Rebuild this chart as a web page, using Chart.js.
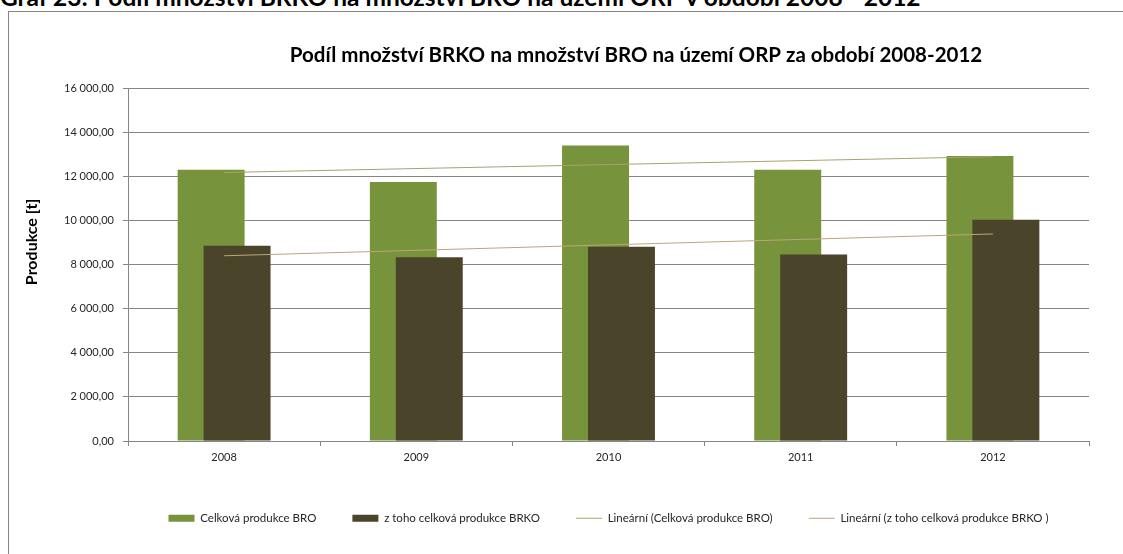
<!DOCTYPE html>
<html lang="cs">
<head>
<meta charset="utf-8">
<title>Podíl množství BRKO na množství BRO</title>
<script src="https://cdn.jsdelivr.net/npm/chart.js@4.4.1/dist/chart.umd.min.js"></script>
<style>
  html, body { margin: 0; padding: 0; background: #fff; overflow: hidden; }
  body { width: 1123px; height: 554px; position: relative; font-family: Lato, 'Liberation Sans', sans-serif; }
  .caption { position: absolute; left: 0; top: -18px; font-weight: bold; font-size: 24.5px; line-height: 29px; white-space: nowrap; color: #000; }
  .frame { position: absolute; left: 8px; top: 11px; width: 1254px; height: 560px; border: 1px solid #868686; background: #fff; }
  canvas { display: block; }
</style>
</head>
<body>
<div class="caption">Graf 23: Podíl množství BRKO na množství BRO na území ORP v období 2008 - 2012</div>
<div class="frame"><canvas id="chart" width="1254" height="522"></canvas></div>
<script>
const years = ['2008', '2009', '2010', '2011', '2012'];
const broTotal = [12320, 11760, 13420, 12320, 12940];
const brkoTotal = [8860, 8345, 8815, 8465, 10045];
// linear trends: only the end values, spanGaps joins them
const broTrend = [12190, null, null, null, 12910];
const brkoTrend = [8410, null, null, null, 9400];
const yTickValues = [0, 2000, 4000, 6000, 8000, 10000, 12000, 14000, 16000];

const FONT = 'Lato';
const GRID = '#868686';
const TEXT = '#262626';

// 16000 -> "16 000,00"
function czNum(v) {
  const parts = v.toFixed(2).split('.');
  return parts[0].replace(/\B(?=(\d{3})+(?!\d))/g, ' ') + ',' + parts[1];
}

// draw datasets in their own order: BRKO bars over BRO bars, trend lines on top
const drawInOrder = {
  id: 'drawInOrder',
  beforeDatasetsDraw(chart) {
    const { ctx, chartArea: a } = chart;
    const metas = chart.getSortedVisibleDatasetMetas().slice().sort((m, n) => m.index - n.index);
    metas.forEach(meta => {
      ctx.save();
      ctx.beginPath();
      ctx.rect(a.left, a.top, a.right - a.left, a.bottom - a.top);
      ctx.clip();
      meta.controller.draw();
      ctx.restore();
    });
    return false;
  }
};

// vertical axis caption, sits a bit above the middle of the plot
const axisCaption = {
  id: 'axisCaption',
  afterDraw(chart) {
    const { ctx, chartArea: a } = chart;
    ctx.save();
    ctx.translate(23, a.top + (a.bottom - a.top) * 0.435);
    ctx.rotate(-Math.PI / 2);
    ctx.font = 'bold 16px ' + FONT;
    ctx.fillStyle = '#000';
    ctx.textAlign = 'center';
    ctx.textBaseline = 'middle';
    ctx.fillText('Produkce [t]', 0, 0);
    ctx.restore();
  }
};

const barOpts = { categoryPercentage: 0.27, barPercentage: 2.58, borderWidth: 0, pointStyle: 'rect' };
const trendOpts = { type: 'line', borderWidth: 1, pointRadius: 0, spanGaps: true, fill: false, pointStyle: 'line' };

new Chart(document.getElementById('chart'), {
  type: 'bar',
  data: {
    labels: years,
    datasets: [
      Object.assign({ label: 'Celková produkce BRO', data: broTotal, backgroundColor: '#77933c' }, barOpts),
      Object.assign({ label: 'z toho celková produkce BRKO', data: brkoTotal, backgroundColor: '#4a452a' }, barOpts),
      Object.assign({ label: 'Lineární (Celková produkce BRO)', data: broTrend, borderColor: '#a9a26f' }, trendOpts),
      Object.assign({ label: 'Lineární (z toho celková produkce BRKO )', data: brkoTrend, borderColor: '#b9a77c' }, trendOpts)
    ]
  },
  options: {
    responsive: false,
    animation: false,
    devicePixelRatio: 1,
    layout: { padding: 0 },
    scales: {
      x: {
        offset: true,
        grid: { offset: true, drawOnChartArea: false, tickLength: 5, color: GRID },
        border: { color: GRID },
        ticks: { padding: 5, color: TEXT, font: { family: FONT, size: 11 } },
        afterFit: s => { s.height = 35.5; }
      },
      y: {
        min: 0,
        max: 16000,
        grid: { color: GRID, tickLength: 5 },
        border: { color: GRID },
        ticks: { padding: 9, color: TEXT, font: { family: FONT, size: 11 }, callback: v => czNum(v) },
        afterBuildTicks: s => { s.ticks = yTickValues.map(v => ({ value: v })); },
        afterFit: s => { s.width = 119; }
      },
      // empty strip on the right of the plot
      side: {
        position: 'right',
        grid: { display: false },
        border: { display: false },
        ticks: { display: false },
        afterFit: s => { s.width = 174; }
      }
    },
    plugins: {
      title: {
        display: true,
        text: 'Podíl množství BRKO na množství BRO na území ORP za období 2008-2012',
        color: '#000',
        font: { family: FONT, size: 20.5, weight: 'bold' },
        padding: { top: 31.5, bottom: 20.5 }
      },
      legend: {
        position: 'bottom',
        fullSize: false,
        labels: {
          usePointStyle: true,
          pointStyleWidth: 26,
          boxHeight: 7,
          padding: 36,
          color: TEXT,
          font: { family: FONT, size: 11.5 },
          sort: (a, b) => a.datasetIndex - b.datasetIndex,
          generateLabels(chart) {
            return Chart.defaults.plugins.legend.labels.generateLabels(chart).map(item => {
              const isLine = chart.data.datasets[item.datasetIndex].type === 'line';
              item.pointStyle = isLine ? 'line' : 'rect';
              item.lineWidth = isLine ? 1 : 0;
              return item;
            });
          }
        }
      },
      tooltip: { enabled: false }
    }
  },
  plugins: [drawInOrder, axisCaption]
});
</script>
</body>
</html>
